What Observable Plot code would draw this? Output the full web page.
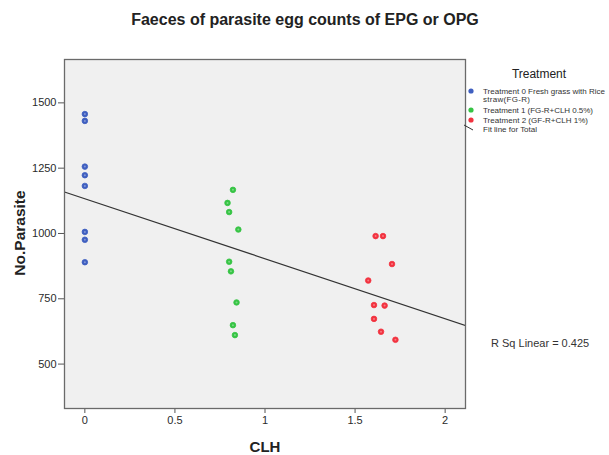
<!DOCTYPE html>
<html>
<head>
<meta charset="utf-8">
<script src="https://cdn.jsdelivr.net/npm/d3@7"></script>
<script src="https://cdn.jsdelivr.net/npm/@observablehq/plot@0.6"></script>
<style>
  body { margin: 0; background: #fff; font-family: "Liberation Sans", Arial, sans-serif; }
  #chart { position: relative; width: 609px; height: 455px; }
</style>
</head>
<body>
<div id="chart"></div>
<script>
// ---- Data ----
const treatments = [
  "Treatment 0 Fresh grass with Rice straw(FG-R)",
  "Treatment 1 (FG-R+CLH 0.5%)",
  "Treatment 2 (GF-R+CLH 1%)"
];
const colors = ["#3f5fc0", "#36c444", "#f2323f"];

const t0CLH = [0, 0, 0, 0, 0, 0, 0, 0];
const t0Parasite = [1457, 1431, 1256, 1223, 1182, 1006, 976, 890];

const t1CLH = [0.822, 0.792, 0.801, 0.852, 0.801, 0.811, 0.842, 0.822, 0.833];
const t1Parasite = [1167, 1117, 1082, 1015, 892, 855, 736, 649, 611];

const t2CLH = [1.614, 1.655, 1.705, 1.573, 1.605, 1.664, 1.605, 1.644, 1.724];
const t2Parasite = [990, 990, 883, 820, 726, 724, 673, 624, 593];

// fit line for total (intercept at CLH = 0, slope)
const fitIntercept = 1133;
const fitSlope = -229.6;

const xTicks = [0, 0.5, 1, 1.5, 2];
const yTicks = [500, 750, 1000, 1250, 1500];
const xDomain = [-0.113, 2.113];
const yDomain = [330, 1666];
const rSqLabel = "R Sq Linear = 0.425";

// ---- Build table ----
const rows = [];
[[t0CLH, t0Parasite], [t1CLH, t1Parasite], [t2CLH, t2Parasite]].forEach(([xs, ys], i) => {
  xs.forEach((x, j) => rows.push({clh: x, parasite: ys[j], treatment: treatments[i]}));
});
const fitLine = xDomain.map(x => ({clh: x, parasite: fitIntercept + fitSlope * x}));

const W = 609, H = 455;
const plot = Plot.plot({
  width: W, height: H,
  marginLeft: 64, marginRight: 144, marginTop: 59, marginBottom: 47,
  style: {fontFamily: "'Liberation Sans', Arial, sans-serif", fontSize: "11px", color: "#333", background: "white"},
  x: {domain: xDomain, label: null},
  y: {domain: yDomain, label: null},
  color: {domain: treatments, range: colors},
  marks: [
    Plot.frame({fill: "#f0f0f0", stroke: "none"}),
    Plot.axisX({ticks: xTicks, tickFormat: d => String(d), tickSize: 5, tickPadding: 3, stroke: "#555", fill: "#2a2a2a", label: null}),
    Plot.axisY({ticks: yTicks, tickFormat: d => String(d), tickSize: 6, tickPadding: 2, stroke: "#555", fill: "#2a2a2a", label: null}),
    Plot.line(fitLine, {x: "clh", y: "parasite", stroke: "#333", strokeWidth: 1.2, clip: true}),
    Plot.dot(rows, {x: "clh", y: "parasite", fill: "treatment", stroke: "treatment", strokeWidth: 0.8, r: 2.8}),
    Plot.dot(rows, {x: "clh", y: "parasite", fill: "white", fillOpacity: 0.35, r: 1}),
    Plot.frame({stroke: "#6a6a6a", strokeWidth: 1.3})
  ]
});
document.getElementById("chart").appendChild(plot);

// ---- Titles and legend (text) ----
const svg = d3.select(plot);
const font = "'Liberation Sans', Arial, sans-serif";
svg.append("text").attr("x", 305).attr("y", 25).attr("text-anchor", "middle")
  .attr("font-family", font).attr("font-size", 16).attr("font-weight", "bold").attr("fill", "#222")
  .text("Faeces of parasite egg counts of EPG or OPG");
svg.append("text").attr("x", 265).attr("y", 452).attr("text-anchor", "middle")
  .attr("font-family", font).attr("font-size", 15).attr("font-weight", "bold").attr("fill", "#222")
  .text("CLH");
svg.append("text").attr("transform", "translate(25,233) rotate(-90)").attr("text-anchor", "middle")
  .attr("font-family", font).attr("font-size", 15.5).attr("font-weight", "bold").attr("fill", "#222")
  .text("No.Parasite");

svg.append("text").attr("x", 539).attr("y", 78).attr("text-anchor", "middle")
  .attr("font-family", font).attr("font-size", 12).attr("fill", "#222").text("Treatment");

const legendLines = [
  [["Treatment 0 Fresh grass with Rice", 122], ["straw(FG-R)", 47]],
  [["Treatment 1 (FG-R+CLH 0.5%)", 110]],
  [["Treatment 2 (GF-R+CLH 1%)", 105]]
];
const legendY = [91, 110, 120];
legendLines.forEach((lines, i) => {
  svg.append("circle").attr("cx", 471).attr("cy", legendY[i]).attr("r", 2.6).attr("fill", colors[i]);
  lines.forEach(([ln, len], k) => {
    svg.append("text").attr("x", 483).attr("y", legendY[i] + 2.8 + k * 8.5).attr("text-anchor", "start")
      .attr("font-family", font).attr("font-size", 8).attr("fill", "#333")
      .attr("textLength", len).attr("lengthAdjust", "spacing").text(ln);
  });
});
svg.append("line").attr("x1", 464).attr("y1", 125).attr("x2", 473).attr("y2", 130)
  .attr("stroke", "#333").attr("stroke-width", 1);
svg.append("text").attr("x", 483).attr("y", 132).attr("text-anchor", "start")
  .attr("font-family", font).attr("font-size", 8).attr("fill", "#333")
  .attr("textLength", 54).attr("lengthAdjust", "spacing").text("Fit line for Total");

svg.append("text").attr("x", 491).attr("y", 347).attr("text-anchor", "start")
  .attr("font-family", font).attr("font-size", 11).attr("fill", "#333").text(rSqLabel);
</script>
</body>
</html>
